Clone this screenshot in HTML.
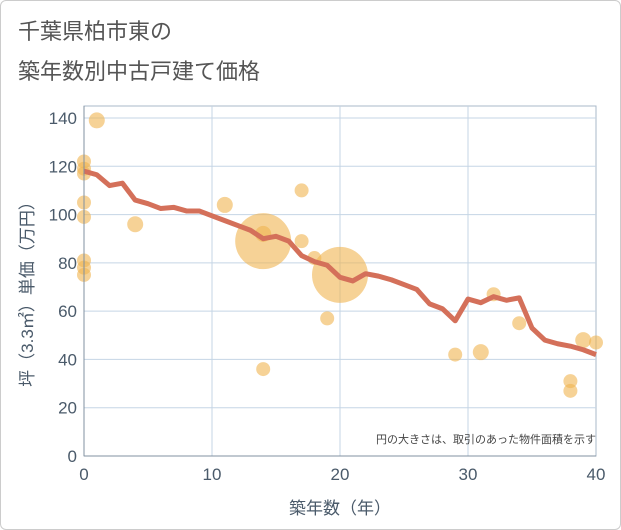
<!DOCTYPE html>
<html><head><meta charset="utf-8"><style>
body{margin:0;background:#fff;font-family:"Liberation Sans","Noto Sans CJK JP",sans-serif;}
#wrap{position:relative;width:619px;height:528px;border:1px solid #ccc;border-radius:6px;background:#fff;}
</style></head><body>
<div id="wrap">
<svg width="621" height="530" viewBox="0 0 621 530" style="position:absolute;left:-1px;top:-1px">
<text x="18" y="39" font-size="22" fill="#555" font-family="Liberation Sans,Noto Sans CJK JP,sans-serif">千葉県柏市東の</text>
<text x="18" y="79" font-size="22" fill="#555" font-family="Liberation Sans,Noto Sans CJK JP,sans-serif">築年数別中古戸建て価格</text>
<rect x="84" y="106" width="512" height="350" fill="#fff" stroke="#a9b8c8"/>
<g id="grid"></g><g id="bubbles"></g><g id="line"></g><g id="axes"></g>
<text x="596" y="443" font-size="11" fill="#444" text-anchor="end" font-family="Liberation Sans,Noto Sans CJK JP,sans-serif">円の大きさは、取引のあった物件面積を示す</text>
<text x="340" y="514" font-size="17" fill="#4a5a6a" text-anchor="middle" font-family="Liberation Sans,Noto Sans CJK JP,sans-serif">築年数（年）</text>
<text transform="translate(33,290) rotate(-90)" font-size="17" fill="#4a5a6a" text-anchor="middle" font-family="Liberation Sans,Noto Sans CJK JP,sans-serif">坪（3.3㎡）単価（万円）</text>
</svg></div>
<script>
const xTicks=[0,10,20,30,40];
const yTicks=[0,20,40,60,80,100,120,140];
const lineYears=[0,1,2,3,4,5,6,7,8,9,10,11,12,13,14,15,16,17,18,19,20,21,22,23,24,25,26,27,28,29,30,31,32,33,34,35,36,37,38,39,40];
const lineValues=[118,116.5,112,113,106,104.5,102.5,103,101.5,101.5,99.5,97.5,95.5,93.5,90,91,89,83,80.5,79,74,72.5,75.5,74.5,73,71,69,63,61,56,65,63.5,66,64.5,65.5,53,48,46.5,45.5,44,42];
const bubbleYears=[0,0,0,0,0,0,0,0,1,4,11,14,14,14,17,17,18,19,20,29,31,32,34,38,38,39,40];
const bubbleValues=[122,119,117,105,99,81,78,75,139,96,104,89,92,36,110,89,82,57,75,42,43,67,55,31,27,48,47];
const bubbleSizes=[7,7,7,7,7,7,7,7,8,8,8,28,8,7,7,7,7,7,28,7,8,7,7,7,7,8,7];
const NS="http://www.w3.org/2000/svg";
const X=v=>84+v*12.8, Y=v=>456-v*(338/140);
function mk(t,a,p){const e=document.createElementNS(NS,t);for(const k in a)e.setAttribute(k,a[k]);p.appendChild(e);return e;}
const g=document.getElementById('grid'),ax=document.getElementById('axes');
xTicks.forEach(t=>{if(t>0&&t<40){const l=mk('line',{x1:X(t),x2:X(t),y1:106,y2:456,stroke:'#c5d5e5'},g);

}
const tx=mk('text',{x:X(t),y:480,'font-size':17,fill:'#4a5a6a','text-anchor':'middle'},ax);tx.textContent=t;

});
yTicks.forEach(t=>{if(t>0){const l=mk('line',{x1:84,x2:596,y1:Y(t),y2:Y(t),stroke:'#c5d5e5'},g);

}
const tx=mk('text',{x:77,y:Y(t)+6,'font-size':17,fill:'#4a5a6a','text-anchor':'end'},ax);tx.textContent=t;

});
const a1=mk('line',{x1:84,x2:84,y1:106,y2:456,stroke:'#8090a0'},ax);


const a2=mk('line',{x1:84,x2:596,y1:456,y2:456,stroke:'#8090a0'},ax);


const bg=document.getElementById('bubbles');
bubbleYears.forEach((yr,i)=>{const c=mk('circle',{cx:X(yr),cy:Y(bubbleValues[i]),r:bubbleSizes[i],fill:'rgba(240,180,80,0.6)'},bg);

});
const pts=lineYears.map((yr,i)=>X(yr)+','+Y(lineValues[i])).join(' ');
const pl=mk('polyline',{points:pts,fill:'none',stroke:'#d4705a',"stroke-width":5,"stroke-linejoin":"round"},document.getElementById('line'));


</script>
</body></html>
